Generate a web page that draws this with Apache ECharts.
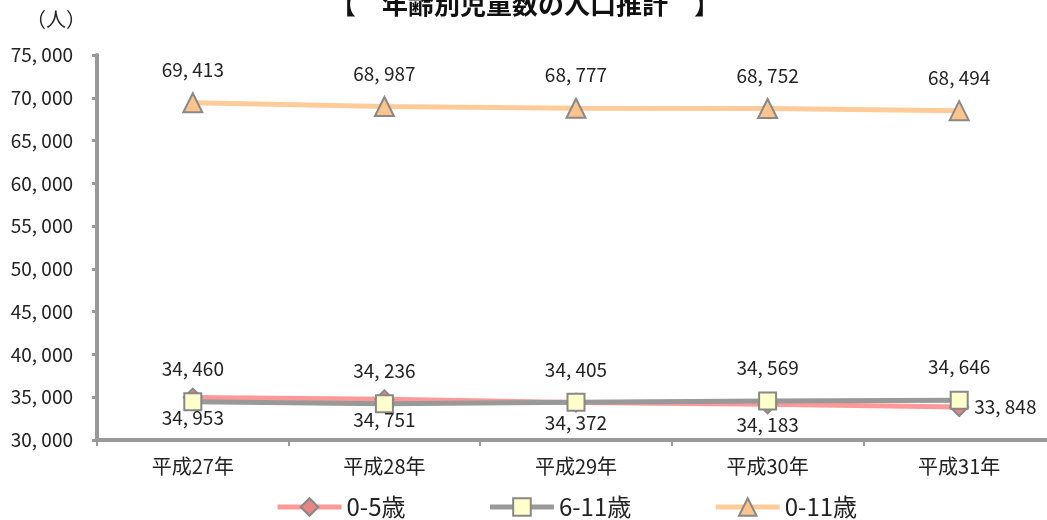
<!DOCTYPE html>
<html><head><meta charset="utf-8">
<script src="https://cdn.jsdelivr.net/npm/echarts@6/dist/echarts.min.js"></script>
<style>html,body{margin:0;padding:0;background:#fff;overflow:hidden;width:1047px;height:520px}#c{width:1060px;height:520px}</style>
</head><body><div id="c"></div>
<script>
var categories = ['平成27年','平成28年','平成29年','平成30年','平成31年'];
var age0to5 = [34953, 34751, 34372, 34183, 33848];
var age6to11 = [34460, 34236, 34405, 34569, 34646];
var age0to11 = [69413, 68987, 68777, 68752, 68494];
var seriesNames = ['0-5歳','6-11歳','0-11歳'];

var FONT = '"Noto Sans CJK JP", sans-serif';
function fmt(v){ return String(v).replace(/\B(?=(\d{3})+(?!\d))/g, ', '); }

var chart = echarts.init(document.getElementById('c'));
chart.setOption({
  animation: false,
  title: {text: '【　年齢別児童数の人口推計　】', left: 520, textAlign: 'center', top: -14,
    textStyle: {fontFamily: FONT, fontSize: 26, fontWeight: 'bold', color: '#111'}},
  graphic: [{type: 'text', left: 26, top: 9, style: {text: '（人）', font: '20px "Noto Sans CJK JP"', fill: '#222'}}],
  legend: {bottom: -4, left: 270, itemWidth: 64, itemHeight: 22, itemGap: 82,
    lineStyle: {width: 5},
    textStyle: {fontFamily: FONT, fontSize: 24, color: '#222'}, data: seriesNames},
  grid: {left: 97, right: 5, top: 55, bottom: 80, containLabel: false},
  xAxis: {type: 'category', data: categories, boundaryGap: true,
    axisLine: {lineStyle: {color: '#999', width: 4}},
    axisTick: {show: true, length: 6, lineStyle: {color: '#999', width: 2}},
    axisLabel: {fontFamily: FONT, fontSize: 20, color: '#222', margin: 16}},
  yAxis: {type: 'value', min: 30000, max: 75000, interval: 5000,
    splitLine: {show: false},
    axisLine: {show: true, lineStyle: {color: '#999', width: 4}},
    axisTick: {show: true, length: 5, lineStyle: {color: '#999', width: 3}},
    axisLabel: {fontFamily: FONT, fontSize: 19, color: '#222', margin: 24, formatter: fmt}},
  series: [
    {name: seriesNames[0], type: 'line', data: age0to5.map(function(v,i){
        return {value: v, label: {position: i === 4 ? 'right' : 'bottom', distance: i === 4 ? 5 : 1}};
      }),
      symbol: 'diamond', symbolSize: 18,
      lineStyle: {color: '#FF9999', width: 5},
      itemStyle: {color: '#E88585', borderColor: '#888', borderWidth: 2},
      label: {show: true, formatter: function(p){return fmt(p.value);}, fontFamily: FONT, fontSize: 19, color: '#222'}},
    {name: seriesNames[1], type: 'line', data: age6to11,
      symbol: 'rect', symbolSize: 17,
      lineStyle: {color: '#999999', width: 5},
      itemStyle: {color: '#FFFFCC', borderColor: '#888', borderWidth: 2},
      label: {show: true, position: 'top', distance: 14, formatter: function(p){return fmt(p.value);}, fontFamily: FONT, fontSize: 19, color: '#222'}},
    {name: seriesNames[2], type: 'line', data: age0to11,
      symbol: 'triangle', symbolSize: 19,
      lineStyle: {color: '#FFCC99', width: 5},
      itemStyle: {color: '#FFC48C', borderColor: '#888', borderWidth: 2},
      label: {show: true, position: 'top', distance: 13, formatter: function(p){return fmt(p.value);}, fontFamily: FONT, fontSize: 19, color: '#222'}}
  ]
});
</script></body></html>
